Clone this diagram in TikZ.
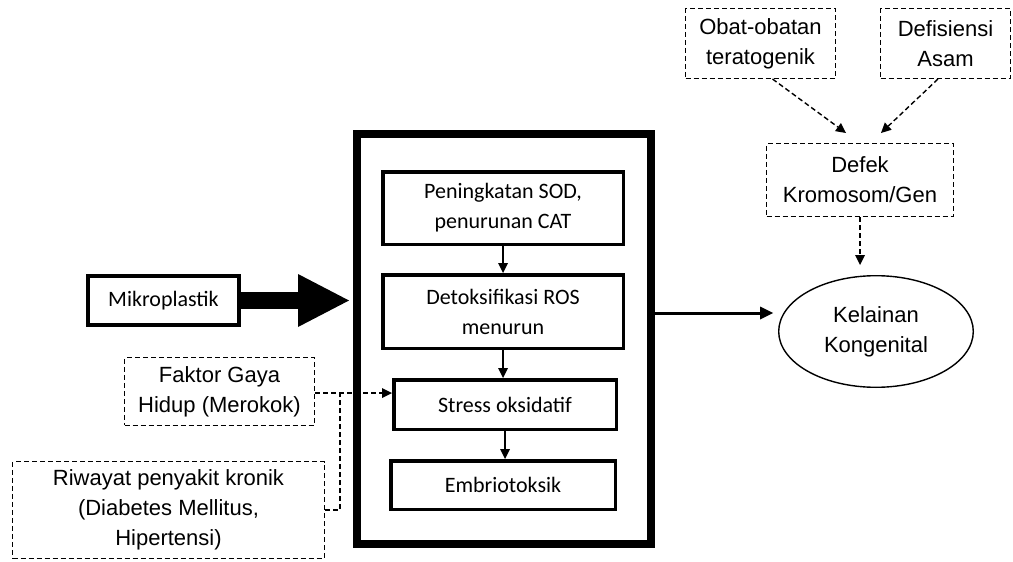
\documentclass[tikz,border=0pt]{standalone}
\usepackage{fontspec}
\setmainfont{Liberation Sans}
\newfontfamily\calibri{Carlito}
\usetikzlibrary{arrows.meta,shapes.geometric}

\begin{document}
\begin{tikzpicture}[x=1pt,y=-1pt,
    every node/.style={inner sep=0pt,align=center,font=\fontsize{22}{30}\selectfont},
    solidbox/.style={draw,line width=3.5pt,font=\calibri\fontsize{22}{30}\selectfont},
    dashbox/.style={draw,line width=1.4pt,dash pattern=on 5pt off 3pt},
    dashline/.style={line width=1.4pt,dash pattern=on 5pt off 3pt},
    dasharrow/.style={dashline,-{Triangle[length=10pt,width=10pt,line width=0pt]}}]
\useasboundingbox[fill=white] (0,0) rectangle (1013,562);

% middle block
\node[draw,line width=8pt,minimum width=294pt,minimum height=410pt] (container) at (504,339) {};
\node[solidbox,minimum width=240.5pt,minimum height=72.5pt] (sod) at (503,208) {Peningkatan SOD,\\penurunan CAT};
\node[solidbox,minimum width=240.5pt,minimum height=73.5pt] (ros) at (503,311.5) {Detoksifikasi ROS\\menurun};
\node[solidbox,minimum width=222.5pt,minimum height=49.5pt] (stress) at (505,404.5) {Stress oksidatif};
\node[solidbox,minimum width=224.5pt,minimum height=48.5pt] (embrio) at (503,485) {Embriotoksik};
\foreach \a/\b in {sod/ros,ros/stress,stress/embrio}
    \draw[line width=1.5pt,-{Triangle[length=10pt,width=10pt,line width=0pt]}] (\a.south) -- (\a.south |- \b.north);

% left side
\node[solidbox,line width=4pt,minimum width=151pt,minimum height=49pt] (mikro) at (163.5,300.5) {Mikroplastik};
\draw[line width=17pt,shorten >=4pt,-{Triangle[length=51pt,width=53pt,line width=0pt]}] (mikro.east) -- (mikro.east -| container.west);
\node[dashbox,minimum width=189.6pt,minimum height=67.6pt] (faktor) at (219.5,391.5) {Faktor Gaya\\Hidup (Merokok)};
\node[dashbox,minimum width=311.6pt,minimum height=96.6pt] (riwayat) at (168.5,510) {Riwayat penyakit kronik\\(Diabetes Mellitus,\\Hipertensi)};
\draw[dasharrow] ([yshift=-1.5pt]faktor.east) -- ([yshift=-1.5pt]faktor.east -| stress.west);
\draw[dashline] (riwayat.east) -| ([xshift=25pt]faktor.east);

% right side
\node[dashbox,minimum width=149.6pt,minimum height=69.6pt] (obat) at (760.5,43.5) {Obat-obatan\\teratogenik};
\node[dashbox,minimum width=129.6pt,minimum height=69.6pt] (defis) at (945.5,43.5) {Defisiensi\\Asam};
\node[dashbox,minimum width=186.6pt,minimum height=72.6pt] (defek) at (860,180) {Defek\\Kromosom/Gen};
\node[draw,ellipse,line width=1.4pt,minimum width=194.6pt,minimum height=111.6pt] (kelainan) at (876,331.5) {Kelainan\\Kongenital};
\draw[dasharrow] ([xshift=12pt]obat.south) -- ([xshift=-14pt,yshift=10pt]defek.north);
\draw[dasharrow] ([xshift=-7.5pt]defis.south) -- ([xshift=21pt,yshift=10pt]defek.north);
\draw[dasharrow,shorten >=10pt] (defek.south) -- (defek.south |- kelainan.north);
\coordinate (outR) at (773,313);
\draw[line width=3pt,-{Triangle[length=13pt,width=13pt,line width=0pt]}] (container.east |- outR) -- (outR);
\end{tikzpicture}
\end{document}
